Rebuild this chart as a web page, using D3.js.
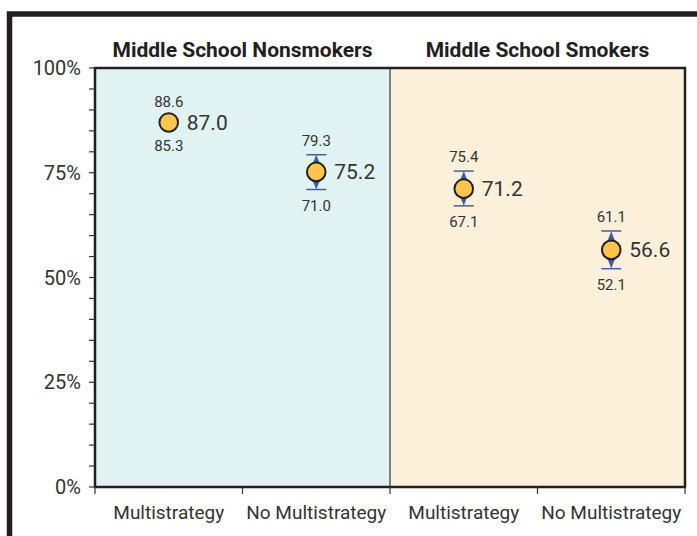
<!DOCTYPE html>
<html>
<head>
<meta charset="utf-8">
<script src="https://cdn.jsdelivr.net/npm/d3@7"></script>
<style>
  body { margin: 0; background: #fff; }
  text { font-family: Roboto, "DejaVu Sans", sans-serif; fill: #333; }
</style>
</head>
<body>
<div id="chart"></div>
<script>
// chart data
const groups = ['Middle School Nonsmokers', 'Middle School Smokers'];
const categories = ['Multistrategy', 'No Multistrategy'];
const values = [87.0, 75.2, 71.2, 56.6];
const upper = [88.6, 79.3, 75.4, 61.1];
const lower = [85.3, 71.0, 67.1, 52.1];
const yTicks = [0, 25, 50, 75, 100];

const width = 697, height = 536;
const plotLeft = 95, plotRight = 685, plotTop = 68, plotBottom = 487;

const svg = d3.select('#chart').append('svg')
  .attr('width', width)
  .attr('height', height);

// flatten into rows: group x category
const rows = [];
groups.forEach((g, gi) => {
  categories.forEach((c, ci) => {
    const i = gi * categories.length + ci;
    rows.push({ key: g + '|' + c, group: g, cat: c, v: values[i], hi: upper[i], lo: lower[i] });
  });
});

const xGroup = d3.scaleBand().domain(groups).range([plotLeft, plotRight]);
const x = d3.scaleBand().domain(rows.map(d => d.key)).range([plotLeft, plotRight]);
const y = d3.scaleLinear().domain([0, 100]).range([plotBottom, plotTop]);

// outer frame
svg.append('path')
  .attr('d', `M9.5,${height} V14 H${width}`)
  .attr('fill', 'none')
  .attr('stroke', '#231f20')
  .attr('stroke-width', 5.5);

// panel backgrounds
const panelColors = ['#e1f2f2', '#fdf0da'];
svg.append('g').selectAll('rect')
  .data(groups)
  .enter().append('rect')
  .attr('x', d => xGroup(d))
  .attr('y', plotTop)
  .attr('width', xGroup.bandwidth())
  .attr('height', plotBottom - plotTop)
  .attr('fill', (d, i) => panelColors[i]);

// panel titles
svg.append('g').selectAll('text')
  .data(groups)
  .enter().append('text')
  .attr('x', d => xGroup(d) + xGroup.bandwidth() / 2)
  .attr('y', 57)
  .attr('text-anchor', 'middle')
  .attr('font-size', 21)
  .attr('font-weight', 'bold')
  .style('fill', '#231f20')
  .text(d => d);

// divider between panels
svg.append('line')
  .attr('x1', xGroup(groups[1])).attr('x2', xGroup(groups[1]))
  .attr('y1', plotTop).attr('y2', plotBottom)
  .attr('stroke', '#333')
  .attr('stroke-width', 1.2);

// plot border
svg.append('rect')
  .attr('x', plotLeft).attr('y', plotTop)
  .attr('width', plotRight - plotLeft).attr('height', plotBottom - plotTop)
  .attr('fill', 'none')
  .attr('stroke', '#231f20')
  .attr('stroke-width', 2.5);

// y axis: minor ticks every 5
const yAxis = svg.append('g');
yAxis.selectAll('line')
  .data(d3.range(0, 101, 5))
  .enter().append('line')
  .attr('x1', plotLeft - 6).attr('x2', plotLeft)
  .attr('y1', d => y(d)).attr('y2', d => y(d))
  .attr('stroke', '#333')
  .attr('stroke-width', 1.2);
yAxis.selectAll('text')
  .data(yTicks)
  .enter().append('text')
  .attr('x', plotLeft - 14)
  .attr('y', d => y(d) + 7)
  .attr('text-anchor', 'end')
  .attr('font-size', 20)
  .text(d => d + '%');

// x axis ticks at band edges
const edges = rows.map(d => x(d.key)).concat([plotRight]);
svg.append('g').selectAll('line')
  .data(edges)
  .enter().append('line')
  .attr('x1', d => d).attr('x2', d => d)
  .attr('y1', plotBottom).attr('y2', plotBottom + 7)
  .attr('stroke', '#333')
  .attr('stroke-width', 1.2);
svg.append('g').selectAll('text')
  .data(rows)
  .enter().append('text')
  .attr('x', d => x(d.key) + x.bandwidth() / 2)
  .attr('y', 519)
  .attr('text-anchor', 'middle')
  .attr('font-size', 19)
  .text(d => d.cat);

// error bars + points
const r = 9.3;
const cx = d => x(d.key) + x.bandwidth() / 2;
const pts = svg.append('g').selectAll('g')
  .data(rows)
  .enter().append('g');

const withBars = pts.filter(d => y(d.lo) - y(d.hi) > 2 * r);
withBars.append('path')
  .attr('d', d => `M${cx(d)},${y(d.hi)} L${cx(d) + 7},${y(d.v)} L${cx(d)},${y(d.lo)} L${cx(d) - 7},${y(d.v)} Z`)
  .attr('fill', '#3f5f9c');
withBars.selectAll('line.cap')
  .data(d => [d.hi, d.lo].map(v => ({ x: cx(d), v })))
  .enter().append('line')
  .attr('class', 'cap')
  .attr('x1', d => d.x - 10).attr('x2', d => d.x + 10)
  .attr('y1', d => y(d.v)).attr('y2', d => y(d.v))
  .attr('stroke', '#3f5f9c')
  .attr('stroke-width', 1.5);

pts.append('circle')
  .attr('cx', cx)
  .attr('cy', d => y(d.v))
  .attr('r', r)
  .attr('fill', '#fdc54b')
  .attr('stroke', '#231f20')
  .attr('stroke-width', 2);

pts.append('text')
  .attr('x', d => cx(d) + 18)
  .attr('y', d => y(d.v) + 7.5)
  .attr('font-size', 21)
  .text(d => d.v.toFixed(1));
pts.append('text')
  .attr('x', cx)
  .attr('y', d => y(d.hi) - 9)
  .attr('text-anchor', 'middle')
  .attr('font-size', 15)
  .text(d => d.hi.toFixed(1));
pts.append('text')
  .attr('x', cx)
  .attr('y', d => y(d.lo) + 21)
  .attr('text-anchor', 'middle')
  .attr('font-size', 15)
  .text(d => d.lo.toFixed(1));
</script>
</body>
</html>
